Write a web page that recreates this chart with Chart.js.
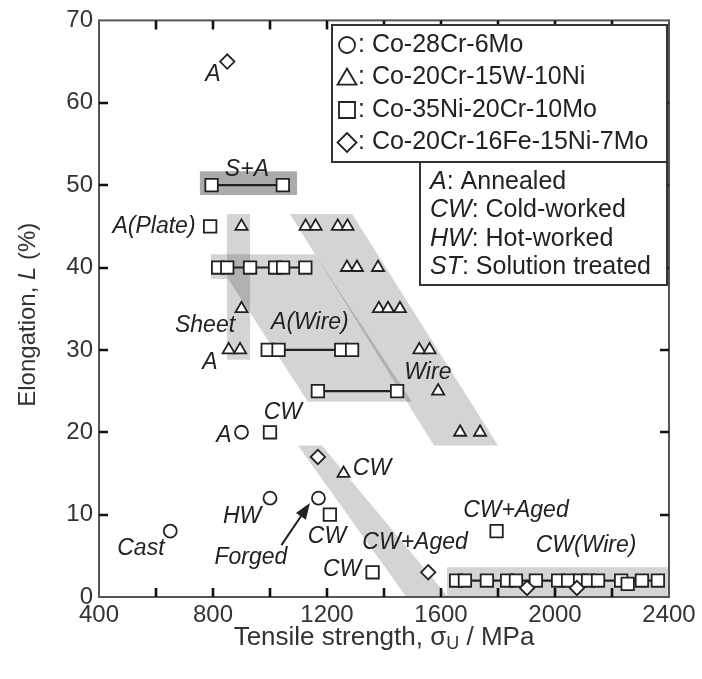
<!DOCTYPE html>
<html>
<head>
<meta charset="utf-8">
<script src="https://cdn.jsdelivr.net/npm/chart.js@4.4.0/dist/chart.umd.min.js"></script>
<style>
  html, body { margin: 0; padding: 0; background: #fff; }
</style>
</head>
<body>
<canvas id="chart" width="702" height="679"></canvas>
<script>
// tensile strength (MPa), elongation (%)
var coCrMo = [[650, 8], [900, 20], [1000, 12], [1170, 12]];

var coCrWNi = [
  [900, 45], [900, 35], [855, 30], [895, 30],
  [1125, 45], [1160, 45], [1238, 45], [1272, 45],
  [1270, 40], [1305, 40], [1379, 40],
  [1382, 35], [1414, 35], [1456, 35],
  [1524, 30], [1560, 30],
  [1590, 25],
  [1667, 20], [1737, 20],
  [1258, 15]
];

var coNiCrMo = [[790, 45], [1000, 20], [1210, 10], [1360, 3], [1795, 8], [2255, 1.6]];
var coNiCrMoSA = [[795, 50], [1045, 50]];
var coNiCrMoRow40 = [[818, 40], [850, 40], [930, 40], [1018, 40], [1046, 40], [1124, 40]];
var coNiCrMoWire = [[992, 30], [1030, 30], [1250, 30], [1288, 30]];
var coNiCrMoRow25 = [[1168, 25], [1446, 25]];
var coNiCrMoCWWire = [
  [1653, 2], [1684, 2], [1761, 2], [1832, 2], [1863, 2], [1933, 2], [2011, 2],
  [2046, 2], [2088, 2], [2116, 2], [2151, 2], [2232, 2], [2305, 2], [2361, 2]
];

var coCrFeNiMo = [[850, 65], [1168, 17], [1555, 3], [1902, 1.1], [2077, 1.1]];

var xTicks = [400, 800, 1200, 1600, 2000, 2400];
var yTicks = [0, 10, 20, 30, 40, 50, 60, 70];

// shaded groups, in data units
var bands = [
  { fill: 'rgba(0,0,0,0.17)', pts: [[849, 46.5], [930, 46.5], [930, 28.8], [849, 28.8]] },
  { fill: 'rgba(0,0,0,0.17)', pts: [[793, 41.6], [1158, 41.6], [1498, 23.7], [1133, 23.7], [853, 38.6], [793, 38.6]] },
  { fill: 'rgba(0,0,0,0.17)', pts: [[1070, 46.5], [1288, 46.5], [1800, 18.4], [1575, 18.4]] },
  { fill: 'rgba(0,0,0,0.17)', pts: [[1098, 18.4], [1182, 18.4], [1625, 0], [1478, 0]] },
  { fill: 'rgba(0,0,0,0.17)', pts: [[1621, 0], [2396, 0], [2396, 3.6], [1621, 3.6]] },
  { fill: 'rgba(0,0,0,0.33)', pts: [[754, 48.8], [1095, 48.8], [1095, 51.7], [754, 51.7]] }
];

var notes = [
  ['A', 800, 63.4], ['S+A', 919, 51.9], ['A(Plate)', 593, 45], ['Sheet', 772, 32.9],
  ['A', 789, 28.4], ['A(Wire)', 1140, 33.3], ['Wire', 1554, 27.2], ['CW', 1045, 22.4],
  ['A', 838, 19.6], ['CW', 1358, 15.6], ['HW', 902, 9.7], ['Cast', 547, 5.9],
  ['Forged', 933, 4.8], ['CW', 1200, 7.3], ['CW', 1253, 3.3], ['CW+Aged', 1509, 6.65],
  ['CW+Aged', 1863, 10.5], ['CW(Wire)', 2109, 6.2]
];
var forgedArrow = [[1040, 6.3], [1140, 11.4]];

var alloys = ['Co-28Cr-6Mo', 'Co-20Cr-15W-10Ni', 'Co-35Ni-20Cr-10Mo', 'Co-20Cr-16Fe-15Ni-7Mo'];
var treatments = [['A', 'Annealed'], ['CW', 'Cold-worked'], ['HW', 'Hot-worked'], ['ST', 'Solution treated']];

var FONT = '"Liberation Sans", Arial, Helvetica, sans-serif';
var INK = '#222';

function pts(arr) {
  return arr.map(function (p) { return { x: p[0], y: p[1] }; });
}

function markers(label, data, style, radius, line) {
  return {
    label: label,
    data: pts(data),
    showLine: !!line,
    borderColor: INK,
    borderWidth: 2.2,
    pointStyle: style,
    pointRadius: radius,
    pointBackgroundColor: '#fff',
    pointBorderColor: INK,
    pointBorderWidth: 1.8,
    order: 1
  };
}

function drawSymbol(ctx, style, x, y, r) {
  ctx.beginPath();
  if (style === 'circle') {
    ctx.arc(x, y, r, 0, Math.PI * 2);
  } else if (style === 'triangle') {
    ctx.moveTo(x, y - r);
    ctx.lineTo(x + r * 1.05, y + r * 0.8);
    ctx.lineTo(x - r * 1.05, y + r * 0.8);
    ctx.closePath();
  } else if (style === 'rect') {
    ctx.rect(x - r, y - r, 2 * r, 2 * r);
  } else {
    ctx.moveTo(x, y - r);
    ctx.lineTo(x + r, y);
    ctx.lineTo(x, y + r);
    ctx.lineTo(x - r, y);
    ctx.closePath();
  }
  ctx.fillStyle = '#fff';
  ctx.fill();
  ctx.stroke();
}

var decor = {
  id: 'decor',
  beforeDatasetsDraw: function (chart) {
    var ctx = chart.ctx, xs = chart.scales.x, ys = chart.scales.y, a = chart.chartArea;
    ctx.save();
    ctx.beginPath();
    ctx.rect(a.left, a.top, a.right - a.left, a.bottom - a.top);
    ctx.clip();
    bands.forEach(function (b) {
      ctx.beginPath();
      b.pts.forEach(function (p, i) {
        var px = xs.getPixelForValue(p[0]), py = ys.getPixelForValue(p[1]);
        if (i === 0) ctx.moveTo(px, py); else ctx.lineTo(px, py);
      });
      ctx.closePath();
      ctx.fillStyle = b.fill;
      ctx.fill();
    });
    ctx.restore();
  },
  afterDraw: function (chart) {
    var ctx = chart.ctx, xs = chart.scales.x, ys = chart.scales.y, a = chart.chartArea;
    ctx.save();

    // frame and inward ticks
    ctx.strokeStyle = '#555';
    ctx.lineWidth = 2;
    ctx.strokeRect(a.left, a.top, a.right - a.left, a.bottom - a.top);
    ctx.strokeStyle = '#111';
    ctx.lineWidth = 2.6;
    ctx.beginPath();
    for (var v = 600; v < 2400; v += 200) {
      var px = Math.round(xs.getPixelForValue(v));
      ctx.moveTo(px, a.bottom); ctx.lineTo(px, a.bottom - 9);
      ctx.moveTo(px, a.top); ctx.lineTo(px, a.top + 9);
    }
    for (var w = 10; w < 70; w += 10) {
      var py = Math.round(ys.getPixelForValue(w));
      ctx.moveTo(a.left, py); ctx.lineTo(a.left + 9, py);
      ctx.moveTo(a.right, py); ctx.lineTo(a.right - 9, py);
    }
    ctx.stroke();

    // annotations
    ctx.fillStyle = INK;
    ctx.font = 'italic 23px ' + FONT;
    ctx.textAlign = 'center';
    ctx.textBaseline = 'middle';
    notes.forEach(function (n) {
      ctx.fillText(n[0], xs.getPixelForValue(n[1]), ys.getPixelForValue(n[2]));
    });

    // arrow for "Forged"
    var x0 = xs.getPixelForValue(forgedArrow[0][0]), y0 = ys.getPixelForValue(forgedArrow[0][1]);
    var x1 = xs.getPixelForValue(forgedArrow[1][0]), y1 = ys.getPixelForValue(forgedArrow[1][1]);
    var ang = Math.atan2(y1 - y0, x1 - x0);
    ctx.strokeStyle = INK;
    ctx.lineWidth = 2;
    ctx.beginPath();
    ctx.moveTo(x0, y0);
    ctx.lineTo(x1 - 12 * Math.cos(ang), y1 - 12 * Math.sin(ang));
    ctx.stroke();
    ctx.beginPath();
    ctx.moveTo(x1, y1);
    ctx.lineTo(x1 - 16 * Math.cos(ang) + 6 * Math.sin(ang), y1 - 16 * Math.sin(ang) - 6 * Math.cos(ang));
    ctx.lineTo(x1 - 16 * Math.cos(ang) - 6 * Math.sin(ang), y1 - 16 * Math.sin(ang) + 6 * Math.cos(ang));
    ctx.closePath();
    ctx.fill();

    // legend boxes
    ctx.lineWidth = 2;
    ctx.strokeStyle = '#333';
    ctx.fillStyle = '#fff';
    ctx.fillRect(332, 25, 335, 137);
    ctx.strokeRect(332, 25, 335, 137);
    ctx.fillRect(420, 162, 247, 123);
    ctx.strokeRect(420, 162, 247, 123);

    var styles = ['circle', 'triangle', 'rect', 'rectRot'];
    var sizes = [8, 9, 8, 9.5];
    ctx.textAlign = 'left';
    ctx.lineWidth = 1.8;
    ctx.strokeStyle = INK;
    alloys.forEach(function (name, i) {
      var cy = 45 + i * 32.5;
      drawSymbol(ctx, styles[i], 347, cy, sizes[i]);
      ctx.fillStyle = INK;
      ctx.font = '25px ' + FONT;
      ctx.fillText(': ' + name, 358, cy);
    });
    treatments.forEach(function (t, i) {
      var cy = 182 + i * 28.5;
      ctx.fillStyle = INK;
      ctx.font = 'italic 25px ' + FONT;
      ctx.fillText(t[0], 430, cy);
      var wd = ctx.measureText(t[0]).width;
      ctx.font = '25px ' + FONT;
      ctx.fillText(': ' + t[1], 430 + wd, cy);
    });

    // axis titles
    ctx.fillStyle = '#333';
    var cx = (a.left + a.right) / 2;
    ctx.font = '26px ' + FONT;
    var t1 = 'Tensile strength, \u03c3', t2 = ' / MPa';
    var w1 = ctx.measureText(t1).width, w3 = ctx.measureText(t2).width;
    ctx.font = '18px ' + FONT;
    var w2 = ctx.measureText('U').width;
    var sx = cx - (w1 + w2 + w3) / 2, ty = 638;
    ctx.font = '26px ' + FONT;
    ctx.fillText(t1, sx, ty);
    ctx.font = '18px ' + FONT;
    ctx.fillText('U', sx + w1, ty + 6);
    ctx.font = '26px ' + FONT;
    ctx.fillText(t2, sx + w1 + w2, ty);

    ctx.translate(28, (a.top + a.bottom) / 2 + 6);
    ctx.rotate(-Math.PI / 2);
    var p1 = 'Elongation, ', p2 = 'L', p3 = ' (%)';
    ctx.font = '24px ' + FONT;
    var q1 = ctx.measureText(p1).width, q3 = ctx.measureText(p3).width;
    ctx.font = 'italic 24px ' + FONT;
    var q2 = ctx.measureText(p2).width;
    var s0 = -(q1 + q2 + q3) / 2;
    ctx.font = '24px ' + FONT;
    ctx.fillText(p1, s0, 0);
    ctx.font = 'italic 24px ' + FONT;
    ctx.fillText(p2, s0 + q1, 0);
    ctx.font = '24px ' + FONT;
    ctx.fillText(p3, s0 + q1 + q2, 0);

    ctx.restore();
  }
};

new Chart(document.getElementById('chart'), {
  type: 'scatter',
  data: {
    datasets: [
      markers(alloys[0], coCrMo, 'circle', 6.5),
      markers(alloys[1], coCrWNi, 'triangle', 7),
      markers(alloys[2], coNiCrMo, 'rect', 8.8),
      markers(alloys[2] + ' S+A', coNiCrMoSA, 'rect', 8.8, true),
      markers(alloys[2] + ' 40', coNiCrMoRow40, 'rect', 8.8, true),
      markers(alloys[2] + ' A(Wire)', coNiCrMoWire, 'rect', 8.8, true),
      markers(alloys[2] + ' 25', coNiCrMoRow25, 'rect', 8.8, true),
      markers(alloys[2] + ' CW(Wire)', coNiCrMoCWWire, 'rect', 8.8, true),
      Object.assign(markers(alloys[3], coCrFeNiMo, 'rectRot', 7.2), { order: 0 })
    ]
  },
  options: {
    responsive: false,
    animation: false,
    layout: { padding: { top: 18, right: 33, left: 0, bottom: 0 } },
    plugins: { legend: { display: false }, tooltip: { enabled: false } },
    scales: {
      x: {
        type: 'linear', min: 400, max: 2400,
        afterBuildTicks: function (s) { s.ticks = xTicks.map(function (v) { return { value: v }; }); },
        afterFit: function (s) { s.height = 82; },
        grid: { display: false, drawTicks: false },
        border: { display: false },
        ticks: {
          color: '#333', padding: 4, maxRotation: 0,
          font: { family: FONT, size: 24 },
          callback: function (v) { return String(v); }
        }
      },
      y: {
        type: 'linear', min: 0, max: 70,
        afterBuildTicks: function (s) { s.ticks = yTicks.map(function (v) { return { value: v }; }); },
        afterFit: function (s) { s.width = 99; },
        grid: { display: false, drawTicks: false },
        border: { display: false },
        ticks: {
          color: '#333', padding: 6,
          font: { family: FONT, size: 24 },
          callback: function (v) { return String(v); }
        }
      }
    }
  },
  plugins: [decor]
});
</script>
</body>
</html>
